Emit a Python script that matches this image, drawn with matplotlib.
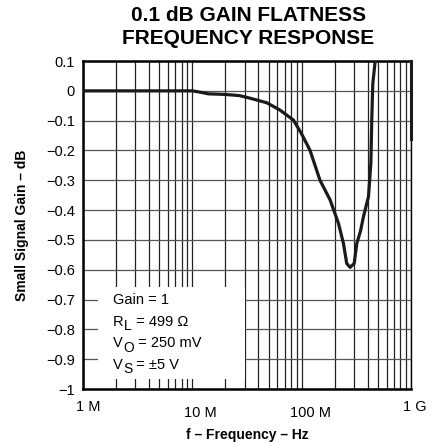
import matplotlib
matplotlib.use("Agg")
import matplotlib.pyplot as plt
import numpy as np

plt.rcParams['font.family'] = ['Liberation Sans', 'DejaVu Sans']

# response (frequency in MHz, gain in dB)
freq_mhz = [1, 5, 10, 12, 14, 20, 27, 34, 48, 63, 84, 100, 119, 147, 182,
            217, 241, 258, 277, 302, 319, 345, 367, 408, 429, 438, 447, 470, 490]
gain_db = [0, 0, 0, -0.005, -0.01, -0.012, -0.016, -0.025, -0.04, -0.064,
           -0.098, -0.145, -0.199, -0.30, -0.366, -0.445, -0.512, -0.579,
           -0.592, -0.579, -0.512, -0.47, -0.422, -0.355, -0.243, -0.087,
           0.025, 0.1, 0.2]
freq = np.array(freq_mhz) * 1e6

x_ticks = [1e6, 1e7, 1e8, 1e9]
x_labels = ["1 M", "10 M", "100 M", "1 G"]
y_ticks = [0.1, 0, -0.1, -0.2, -0.3, -0.4, -0.5, -0.6, -0.7, -0.8, -0.9, -1]
y_labels = ["0.1", "0", "\u22120.1", "\u22120.2", "\u22120.3", "\u22120.4",
            "\u22120.5", "\u22120.6", "\u22120.7", "\u22120.8", "\u22120.9", "\u22121"]
# (main, subscript, rest)
notes = [("Gain = 1", "", ""),
         ("R", "L", " = 499 \u03a9"),
         ("V", "O", " = 250 mV"),
         ("V", "S", " = \u00b15 V")]

fig = plt.figure(figsize=(4.37, 4.42), dpi=100)
ax = fig.add_axes([0.190, 0.1199, 0.7506, 0.742])
ax.set_xscale('log')
ax.set_xlim(1e6, 1e9)
ax.set_ylim(-1, 0.1)

# grid
minor = [m * 10.0**d for d in range(6, 9) for m in range(2, 10)]
for xv in minor + x_ticks:
    ax.axvline(xv, color='#222222', lw=0.9, zorder=1)
for yv in y_ticks:
    ax.axhline(yv, color='#555555', lw=0.9, zorder=1)

# white box behind the test conditions
ax.fill_between([1.37e6, 3.0e7], -0.967, -0.658, color='white', zorder=2, lw=0)

ax.plot(freq, gain_db, color='#1a1a1a', lw=2.3, zorder=3, clip_on=True)

ax.set_xticks(x_ticks)
ax.set_xticklabels([])
ax.minorticks_off()
ax.set_yticks(y_ticks)
ax.set_yticklabels(y_labels, fontsize=10.5)
ax.tick_params(length=0, pad=6)

for s in ['left', 'bottom', 'top']:
    ax.spines[s].set_linewidth(1.8)
ax.spines['right'].set_linewidth(1.0)
ax.plot([1e9, 1e9], [0.1, -0.16], color='#1a1a1a', lw=2.2, zorder=4, clip_on=False)

# staggered frequency labels
offs = [(0.015, -0.056), (0.025, -0.072), (0.028, -0.072), (0.01, -0.056)]
for xv, lab, (dx, dy) in zip(x_ticks, x_labels, offs):
    xa = np.log10(xv / 1e6) / 3
    ax.text(xa + dx, dy, lab, transform=ax.transAxes, ha='center', va='center', fontsize=10.5)

# test conditions, subscripts drawn as separate lowered text
for i, (main, sub, rest) in enumerate(notes):
    t = ax.text(0.091, 0.271 - i * 0.066, main, transform=ax.transAxes,
                fontsize=10.5, va='baseline', ha='left', zorder=5)
    t.set_va('center')
    if sub:
        s = ax.annotate(sub, xy=(1, 0), xycoords=t, xytext=(0.3, -3),
                        textcoords='offset points', fontsize=10, va='bottom', ha='left', zorder=5)
        ax.annotate(rest, xy=(1, 0), xycoords=s, xytext=(0, 3),
                    textcoords='offset points', fontsize=10.5, va='bottom', ha='left', zorder=5)

ax.set_xlabel("f \u2013 Frequency \u2013 Hz", fontsize=10, fontweight='bold', labelpad=22)
ax.set_ylabel("Small Signal Gain \u2013 dB", fontsize=10, fontweight='bold', labelpad=12)
fig.text(0.568, 0.939, "0.1 dB GAIN FLATNESS\nFREQUENCY RESPONSE", ha='center', va='center',
         fontsize=15, fontweight='bold', linespacing=1.25)

fig.savefig("out.png", dpi=100)
